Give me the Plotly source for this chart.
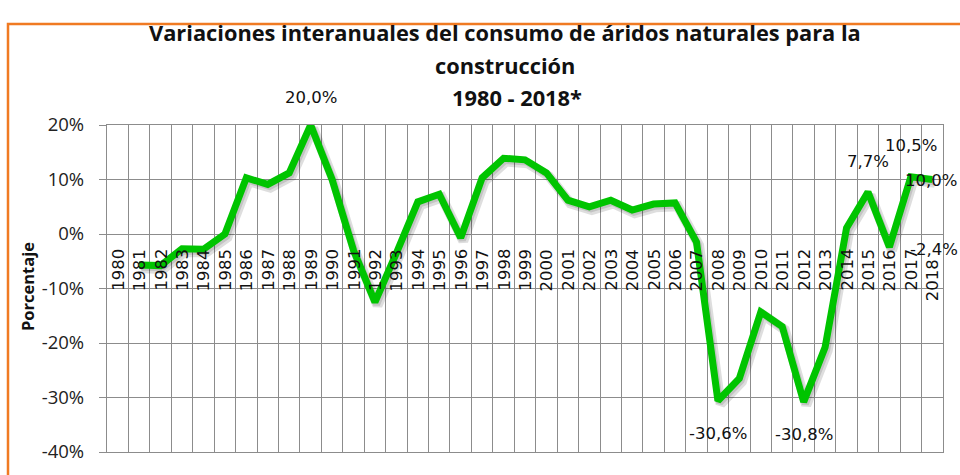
import plotly.graph_objects as go

# ---- data ----
years = ["1980", "1981", "1982", "1983", "1984", "1985", "1986", "1987", "1988", "1989",
         "1990", "1991", "1992", "1993", "1994", "1995", "1996", "1997", "1998", "1999",
         "2000", "2001", "2002", "2003", "2004", "2005", "2006", "2007", "2008", "2009",
         "2010", "2011", "2012", "2013", "2014", "2015", "2016", "2017", "2018"]
variacion = [None, -5.7, -5.8, -2.7, -2.8, 0.0, 10.3, 9.1, 11.2, 20.0,
             10.0, -3.0, -12.5, -3.5, 5.9, 7.3, -0.7, 10.3, 13.9, 13.6,
             11.2, 6.2, 5.0, 6.2, 4.4, 5.5, 5.7, -1.5, -30.6, -26.5,
             -14.3, -17.0, -30.8, -20.8, 1.1, 7.7, -2.4, 10.5, 10.0]
labelled_years = ["1989", "2008", "2012", "2015", "2016", "2017", "2018"]
y_ticks = [-40, -30, -20, -10, 0, 10, 20]

title_lines = ["Variaciones interanuales del consumo de áridos naturales para la",
               "construcción", "1980 - 2018*"]
y_title = "Porcentaje"

# ---- layout geometry (pixels) ----
W, H = 960, 475
L, R, T, B = 107, 943, 125, 462


def pxx(x):
    return (x - L) / (R - L)


def pxy(y):
    return (B - y) / (B - T)


GREEN = "#00C400"
GRID = "#8c8c8c"
xs = list(range(len(years)))

fig = go.Figure()

# soft shadow under the line
fig.add_trace(go.Scatter(
    x=[x + 0.12 for x in xs],
    y=[None if v is None else v - 0.6 for v in variacion],
    mode="lines", line=dict(color="rgba(0,0,0,0.13)", width=10),
    hoverinfo="skip", showlegend=False))
fig.add_trace(go.Scatter(
    x=[x + 0.08 for x in xs],
    y=[None if v is None else v - 0.4 for v in variacion],
    mode="lines", line=dict(color="rgba(0,0,0,0.12)", width=7),
    hoverinfo="skip", showlegend=False))

fig.add_trace(go.Scatter(
    x=xs, y=variacion, mode="lines",
    line=dict(color=GREEN, width=7),
    showlegend=False))

annotations = []

# year labels on the 0% line, rotated
for i, yr in enumerate(years):
    annotations.append(dict(
        x=i, y=0, xref="x", yref="y", text=yr, showarrow=False,
        textangle=-90, xanchor="center", yanchor="top",
        yshift=-13 if yr != "2018" else -23,
        font=dict(family="DejaVu Sans", size=16.5, color="#111111")))

# data labels
label_style = {
    "1989": dict(xanchor="center", yanchor="middle", xshift=0, yshift=28),
    "2008": dict(xanchor="center", yanchor="middle", xshift=0, yshift=-33),
    "2012": dict(xanchor="center", yanchor="middle", xshift=0, yshift=-33),
    "2015": dict(xanchor="center", yanchor="middle", xshift=0, yshift=31),
    "2016": dict(xanchor="left", yanchor="middle", xshift=19, yshift=-2),
    "2017": dict(xanchor="center", yanchor="middle", xshift=0, yshift=31),
    "2018": dict(xanchor="left", yanchor="middle", xshift=-29, yshift=-1),
}
for yr in labelled_years:
    i = years.index(yr)
    v = variacion[i]
    txt = f"{v:.1f}".replace(".", ",") + "%"
    st = label_style[yr]
    annotations.append(dict(
        x=i, y=v, xref="x", yref="y", text=txt, showarrow=False,
        font=dict(family="DejaVu Sans", size=16.5, color="#111111"), **st))

# title lines
title_pos = [(505, 30), (505, 64), (517, 97)]
for line, (tx, ty) in zip(title_lines, title_pos):
    annotations.append(dict(
        x=pxx(tx), y=pxy(ty), xref="paper", yref="paper", text=f"<b>{line}</b>",
        showarrow=False, xanchor="center", yanchor="middle",
        font=dict(family="Open Sans", size=21.8, color="#111111")))

# y axis title
annotations.append(dict(
    x=pxx(27), y=pxy(292), xref="paper", yref="paper", text=f"<b>{y_title}</b>",
    showarrow=False, textangle=-90, xanchor="center", yanchor="middle",
    font=dict(family="Open Sans", size=16.5, color="#111111")))

fig.update_layout(
    width=W, height=H,
    margin=dict(l=L, r=W - R, t=T, b=H - B, pad=0),
    paper_bgcolor="white", plot_bgcolor="white",
    annotations=annotations,
    shapes=[dict(type="rect", xref="paper", yref="paper",
                 x0=pxx(8), x1=pxx(975), y0=pxy(490), y1=pxy(21),
                 line=dict(color="#F07A22", width=2.5), layer="below")],
    xaxis=dict(range=[-0.5, len(years) - 0.5], tickmode="array",
               tickvals=[i - 0.5 for i in range(len(years) + 1)],
               showticklabels=False, ticks="",
               showgrid=True, gridcolor=GRID, gridwidth=1.3,
               zeroline=False, showline=True, mirror=True,
               linecolor=GRID, linewidth=1.3),
    yaxis=dict(range=[-40, 20], tickmode="array", tickvals=y_ticks,
               ticktext=[f"{t}%" for t in y_ticks],
               ticks="outside", ticklen=7, tickcolor=GRID, tickwidth=1.3,
               ticklabelstandoff=11,
               showgrid=True, gridcolor=GRID, gridwidth=1.3,
               zeroline=False, showline=True, mirror=True,
               linecolor=GRID, linewidth=1.3,
               tickfont=dict(family="Open Sans", size=18.5, color="#222222")),
)

fig.write_html(
    "out.html",
    config={"displayModeBar": False},
    post_script="document.body.style.margin='0';document.body.style.overflow='hidden';",
)
